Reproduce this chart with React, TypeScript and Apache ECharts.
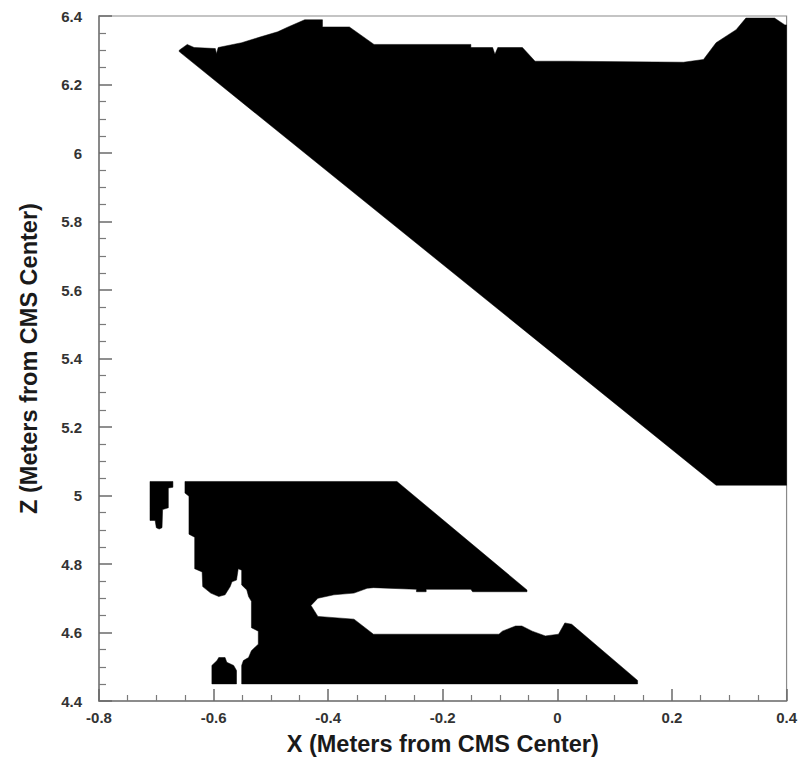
import React, { useEffect, useRef } from "react";
import * as echarts from "echarts";

// Region outlines: [X (m), Z (m)]
const UPPER_REGION: [number, number][] = [
  [-0.660, 6.300], [-0.646, 6.317], [-0.634, 6.308], [-0.597, 6.305], [-0.595, 6.290],
  [-0.592, 6.308], [-0.551, 6.322], [-0.522, 6.337], [-0.488, 6.354], [-0.470, 6.368],
  [-0.441, 6.389], [-0.410, 6.389], [-0.410, 6.368], [-0.363, 6.368], [-0.320, 6.317],
  [-0.151, 6.317], [-0.151, 6.308], [-0.113, 6.308], [-0.109, 6.288], [-0.104, 6.308],
  [-0.061, 6.308], [-0.039, 6.268], [0.018, 6.268], [0.220, 6.265], [0.255, 6.273],
  [0.277, 6.322], [0.312, 6.360], [0.329, 6.394], [0.379, 6.394], [0.397, 6.374],
  [0.400, 6.374], [0.400, 5.030], [0.277, 5.030], [-0.660, 6.296],
];

const LOWER_REGION: [number, number][] = [
  [-0.650, 5.041], [-0.280, 5.041], [-0.053, 4.724], [-0.053, 4.719], [-0.148, 4.719],
  [-0.151, 4.726], [-0.229, 4.726], [-0.229, 4.719], [-0.246, 4.719], [-0.246, 4.726],
  [-0.321, 4.731], [-0.332, 4.729], [-0.355, 4.715], [-0.390, 4.710], [-0.418, 4.700],
  [-0.430, 4.679], [-0.418, 4.647], [-0.355, 4.639], [-0.321, 4.595], [-0.102, 4.595],
  [-0.096, 4.604], [-0.073, 4.619], [-0.062, 4.619], [-0.044, 4.604], [-0.021, 4.590],
  [0.002, 4.595], [0.013, 4.628], [0.025, 4.624], [0.140, 4.460], [0.140, 4.450],
  [-0.551, 4.450], [-0.551, 4.504], [-0.548, 4.518], [-0.539, 4.527], [-0.534, 4.547],
  [-0.522, 4.566], [-0.522, 4.604], [-0.534, 4.614], [-0.534, 4.691], [-0.539, 4.705],
  [-0.542, 4.724], [-0.551, 4.739], [-0.551, 4.782], [-0.557, 4.786], [-0.560, 4.753],
  [-0.568, 4.748], [-0.571, 4.734], [-0.580, 4.710], [-0.591, 4.705], [-0.605, 4.715],
  [-0.619, 4.734], [-0.620, 4.777], [-0.633, 4.786], [-0.633, 4.878], [-0.643, 4.887],
  [-0.643, 4.998], [-0.650, 5.007],
];

const LEFT_PIECE: [number, number][] = [
  [-0.711, 5.041], [-0.671, 5.041], [-0.671, 5.024], [-0.679, 5.022], [-0.679, 4.964],
  [-0.689, 4.959], [-0.690, 4.906], [-0.695, 4.902], [-0.700, 4.906], [-0.702, 4.927],
  [-0.711, 4.927],
];

const BOTTOM_BLOCK: [number, number][] = [
  [-0.603, 4.504], [-0.594, 4.518], [-0.591, 4.527], [-0.580, 4.527], [-0.577, 4.513],
  [-0.565, 4.504], [-0.560, 4.489], [-0.560, 4.450], [-0.603, 4.450],
];

const SHAPES = [UPPER_REGION, LOWER_REGION, LEFT_PIECE, BOTTOM_BLOCK];

const X_MIN = -0.8;
const X_MAX = 0.4;
const Y_MIN = 4.4;
const Y_MAX = 6.4;
const STEP = 0.2;

const X_TITLE = "X (Meters from CMS Center)";
const Y_TITLE = "Z (Meters from CMS Center)";

const FONT = "'Liberation Sans', Arial, Helvetica, sans-serif";

export default function App() {
  const ref = useRef<HTMLDivElement>(null);

  useEffect(() => {
    if (!ref.current) return;
    const chart = echarts.init(ref.current, undefined, { renderer: "svg" });
    const axisCommon = {
      axisLine: { show: true, onZero: false, lineStyle: { color: "#7a7a7a", width: 1.5 } },
      splitLine: { show: false },
      minorSplitLine: { show: false },
    };
    chart.setOption({
      animation: false,
      backgroundColor: "#ffffff",
      grid: {
        left: 91,
        top: 8,
        width: 695,
        height: 695,
        show: true,
        borderColor: "#8a8a8a",
        borderWidth: 1.2,
        backgroundColor: "transparent",
      },
      xAxis: {
        type: "value",
        min: X_MIN,
        max: X_MAX,
        interval: STEP,
        ...axisCommon,
        axisTick: { show: true, inside: true, length: 12, lineStyle: { color: "#6a6a6a", width: 1.5 } },
        minorTick: { show: true, splitNumber: 4, length: 6, lineStyle: { color: "#7a7a7a", width: 1.2 } },
        axisLabel: {
          margin: 9,
          fontFamily: FONT,
          fontWeight: "bold",
          fontSize: 15,
          color: "#333",
        },
        name: X_TITLE,
        nameLocation: "middle",
        nameGap: 31,
        nameTextStyle: { fontFamily: FONT, fontWeight: "bold", fontSize: 23.5, color: "#1a1a1a" },
      },
      yAxis: {
        type: "value",
        min: Y_MIN,
        max: Y_MAX,
        interval: STEP,
        ...axisCommon,
        axisTick: { show: true, inside: true, length: 13, lineStyle: { color: "#6a6a6a", width: 1.5 } },
        minorTick: { show: true, splitNumber: 4, length: 7, lineStyle: { color: "#7a7a7a", width: 1.2 } },
        axisLabel: {
          margin: 17,
          fontFamily: FONT,
          fontWeight: "bold",
          fontSize: 15,
          color: "#333",
        },
        name: Y_TITLE,
        nameLocation: "middle",
        nameGap: 58,
        nameTextStyle: { fontFamily: FONT, fontWeight: "bold", fontSize: 23.5, color: "#1a1a1a" },
      },
      series: [
        {
          type: "custom",
          coordinateSystem: "cartesian2d",
          clip: true,
          silent: true,
          data: SHAPES.map((_, i) => [i, Y_MIN]),
          renderItem: (_params: any, api: any) => {
            const idx = api.value(0) as number;
            const pts = SHAPES[idx].map((p) => api.coord(p));
            return {
              type: "polygon",
              shape: { points: pts },
              style: { fill: "#000000", stroke: "#000000", lineWidth: 0.5 },
            };
          },
        },
      ],
    });
    return () => chart.dispose();
  }, []);

  return <div ref={ref} style={{ width: 792, height: 753 }} />;
}
